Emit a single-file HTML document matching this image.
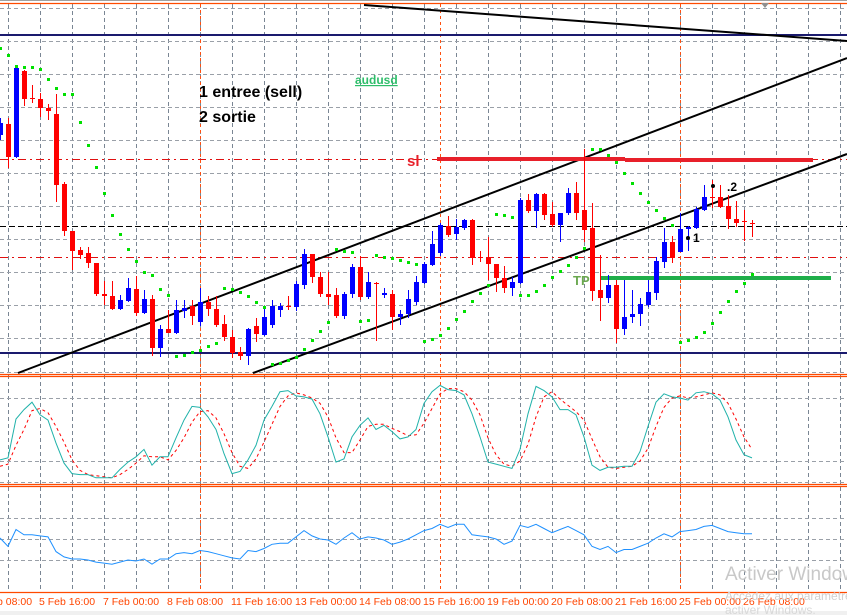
<!DOCTYPE html>
<html><head><meta charset="utf-8">
<style>
html,body{margin:0;padding:0;background:#fff;}
#wrap{position:relative;width:847px;height:615px;overflow:hidden;background:#fff;font-family:"Liberation Sans",sans-serif;}
svg{position:absolute;left:0;top:0;}
</style></head>
<body>
<div id="wrap">
<svg id="chart" width="847" height="615" viewBox="0 0 847 615"></svg>
</div>
<script>
// ---- data ----
const opens  = [9118,9129,9096,9182,9155,9154,9145,9139,9069,9022,9003,9000,8990,8959,8957,8944,8952,8964,8940,8954,8905,8924,8920,8942,8947,8931,8951,8944,8929,8916,8901,8897,8927,8918,8928,8943,8947,8946,8968,8999,8976,8959,8958,8937,8959,8986,8956,8970,8958,8959,8936,8939,8951,8970,8988,9000,9027,9019,9025,9033,8996,8995,8989,8975,8965,8970,9053,9042,9059,9039,9028,9040,9060,9043,9025,8963,8955,8968,8924,8936,8939,8948,8960,8991,9011,9001,9024,9025,9043,9056,9056,9047,9034,9032,9030];
const highs  = [9135,9135,9188,9183,9168,9160,9149,9159,9071,9022,9006,9006,8990,8972,8972,8958,8975,8977,8963,8958,8928,8943,8953,8953,8953,8965,8957,8957,8938,8923,8906,8925,8935,8945,8953,8950,8957,8972,9004,8999,8981,8981,8965,8961,8989,8997,8981,8971,8965,8963,8943,8963,8977,8991,9022,9030,9037,9034,9034,9034,9002,9016,8989,8987,8976,9055,9059,9060,9060,9051,9040,9065,9071,9104,9050,8998,8978,8973,8973,8963,8955,8973,8996,9025,9017,9040,9027,9046,9068,9073,9068,9058,9052,9043,9033];
const lows   = [9113,9085,9095,9147,9150,9136,9133,9051,9017,8983,8994,8985,8957,8948,8943,8943,8951,8937,8939,8897,8896,8920,8919,8935,8928,8927,8937,8926,8912,8895,8893,8888,8911,8917,8925,8936,8943,8942,8964,8970,8956,8948,8935,8934,8955,8953,8954,8912,8955,8923,8928,8935,8948,8969,8987,8997,9016,9013,9023,8988,8991,8973,8961,8960,8957,8969,9040,9025,9033,9026,9011,9038,9033,9011,8952,8932,8950,8910,8918,8930,8927,8946,8953,8985,8990,9001,9002,9024,9042,9045,9045,9024,9026,9012,9016];
const closes = [9130,9096,9185,9154,9154,9145,9142,9068,9022,9002,8998,8990,8959,8957,8944,8953,8965,8940,8954,8905,8924,8920,8943,8945,8937,8951,8944,8928,8916,8900,8897,8924,8919,8936,8947,8947,8946,8969,8999,8976,8959,8956,8937,8959,8986,8956,8971,8969,8960,8936,8939,8954,8971,8989,9009,9028,9018,9026,9033,8995,8995,8989,8975,8965,8971,9053,9042,9059,9038,9028,9040,9060,9040,9023,8962,8955,8968,8924,8936,8939,8949,8961,8992,9011,8995,9024,9026,9044,9056,9055,9046,9034,9030,9031,9029];
const sar = [9205,9198,9187,9186,9186,9184,9174,9165,9159,9159,9131,9108,9086,9060,9038,9019,9004,8992,8981,8978,8964,8958,8897,8898,8901,8903,8907,8910,8965,8964,8961,8957,8951,8946,8889,8890,8893,8896,8904,8913,8922,8931,9004,9002,9001,8932,8933,8998,8996,8995,8993,8991,8989,8912,8914,8918,8925,8934,8942,8952,8960,8968,9039,9038,9036,8958,8958,8962,8968,8976,8982,8988,8996,9005,9104,9104,9098,9091,9080,9070,9060,9051,9043,9035,9028,8911,8913,8916,8921,8930,8941,8952,8962,8970,8979];
const stochMain = [21,23,60,69,76,64,59,37,18,8,7,7,4,4,4,12,19,24,31,16,24,24,42,59,72,71,62,50,27,8,10,21,35,59,72,86,87,82,81,79,65,43,19,22,43,54,61,50,54,48,41,43,50,75,86,92,88,87,83,65,43,19,17,15,13,31,65,91,87,81,69,69,64,43,16,11,14,14,15,15,29,53,76,84,81,80,78,85,86,84,78,62,40,26,23];
const stochSignal = [15,17,35,50,68,70,66,53,38,21,11,7,6,5,4,7,12,18,25,24,24,21,30,42,57,67,68,61,46,28,15,13,22,38,55,72,82,85,83,80,75,62,42,28,28,40,53,55,55,51,48,44,45,56,70,84,89,89,86,78,64,42,26,17,15,20,36,62,81,86,79,73,67,59,41,24,14,13,14,15,20,32,53,71,80,82,80,81,83,85,83,75,60,43,31];
const oscLine = [51,43,59,54,54,53,52,38,33,31,31,30,28,27,26,28,30,29,31,26,31,31,36,37,36,39,38,36,34,32,31,39,38,41,45,46,46,52,58,53,50,49,45,51,56,50,52,51,49,45,47,50,54,58,60,64,61,64,64,54,53,52,50,45,48,63,61,64,60,56,59,62,58,54,43,40,43,37,40,40,43,46,51,55,52,57,58,59,62,63,60,57,56,55,55];
const timeLabels = ["4 Feb 08:00","5 Feb 16:00","7 Feb 00:00","8 Feb 08:00","11 Feb 16:00","13 Feb 00:00","14 Feb 08:00","15 Feb 16:00","19 Feb 00:00","20 Feb 08:00","21 Feb 16:00","25 Feb 00:00","26 Feb 08:00"];
const slPrice = [9094];
const tpPrice = [8975];
const levelPrices = [9218, 8900, 9027];

// ---- axes ----
const xOf = i => 8*i;
const yP = p => 9253 - p;                 // price -> y (main panel)
const yS = v => 461 - (v-20)*63/60;        // stochastic panel
const yO = v => 539 - (v-50)*1.05;         // bottom oscillator

const svg = document.getElementById('chart');
const NS = 'http://www.w3.org/2000/svg';
function mk(tag, attrs, parent){
  const e = document.createElementNS(NS, tag);
  for (const k in attrs) e.setAttribute(k, attrs[k]);
  (parent||svg).appendChild(e);
  return e;
}

// grid
const grid = mk('g', {});


for (let x = 8; x < 847; x += 32) {
  mk('line',{x1:x+0.5,y1:4,x2:x+0.5,y2:592,stroke:'#7a8694','stroke-width':1,'stroke-dasharray':'4,3'},grid);
}
[8,41,74,107,140,173,206,239,272,305,338,372,398,461,482,518,539,560].forEach(y=>{
  mk('line',{x1:0,y1:y+0.5,x2:847,y2:y+0.5,stroke:'#9aa0a8','stroke-width':1,'stroke-dasharray':'4,3'},grid);
});
// orange period separators
[200,440,680].forEach(x=>{
  mk('line',{x1:x+0.5,y1:4,x2:x+0.5,y2:592,stroke:'#ff5010','stroke-width':1,'stroke-dasharray':'3,3'},grid);
});
// panel separators
[[3],[374],[376],[484],[486],[592]].forEach(a=>{
  mk('line',{x1:0,y1:a[0]+0.5,x2:847,y2:a[0]+0.5,stroke:'#ff4a00','stroke-width':1.2},grid);
});
mk('line',{x1:0,y1:0.5,x2:847,y2:0.5,stroke:'#a0a0a0','stroke-width':1},grid);
mk('rect',{x:0,y:611,width:847,height:4,fill:'#f0f0f0'},grid);

// horizontal levels
const nav1 = mk('line',{x1:0,y1:yP(levelPrices[0]),x2:847,y2:yP(levelPrices[0]),stroke:'#1a1a6e','stroke-width':2});


const nav2 = mk('line',{x1:0,y1:yP(levelPrices[1]),x2:847,y2:yP(levelPrices[1]),stroke:'#1a1a6e','stroke-width':2});


const bdash = mk('line',{x1:0,y1:yP(levelPrices[2])+0.5,x2:847,y2:yP(levelPrices[2])+0.5,stroke:'#000','stroke-width':1,'stroke-dasharray':'6,3'});


const rd1 = mk('line',{x1:0,y1:159.5,x2:847,y2:159.5,stroke:'#e01010','stroke-width':1,'stroke-dasharray':'8,4,2,4'});


const rd2 = mk('line',{x1:0,y1:257.5,x2:847,y2:257.5,stroke:'#e01010','stroke-width':1,'stroke-dasharray':'8,4,2,4'});



// trend channel lines
const tl1 = mk('line',{x1:18,y1:373,x2:847,y2:58,stroke:'#000','stroke-width':2});


const tl2 = mk('line',{x1:253,y1:373,x2:847,y2:154,stroke:'#000','stroke-width':2});


const tl3 = mk('line',{x1:364,y1:5,x2:847,y2:41,stroke:'#000','stroke-width':2});



// SL / TP bars
const slY = yP(slPrice[0]);
const sl1 = mk('line',{x1:437,y1:slY,x2:625,y2:slY,stroke:'#e8202a','stroke-width':4});


const sl2 = mk('line',{x1:625,y1:slY+1,x2:813,y2:slY+1,stroke:'#e8202a','stroke-width':4});


const tpY = yP(tpPrice[0]);
const tp = mk('line',{x1:601,y1:tpY,x2:831,y2:tpY,stroke:'#1fae4a','stroke-width':4});



// candles
const cg = mk('g',{});


for (let i=0;i<opens.length;i++){
  const x = xOf(i);
  const up = closes[i] >= opens[i];
  const col = up ? '#0000ff' : '#ff0000';
  const c = mk('g',{},cg);
  
  
  mk('line',{x1:x+0.5,y1:yP(highs[i]),x2:x+0.5,y2:yP(lows[i]),stroke:col,'stroke-width':1},c);
  const top = yP(Math.max(opens[i],closes[i]));
  const h = Math.max(1, Math.abs(opens[i]-closes[i]));
  mk('rect',{x:x-2,y:top,width:5,height:h,fill:col},c);
}
// SAR dots
const sg = mk('g',{});


for (let i=0;i<sar.length;i++){
  const d = mk('rect',{x:xOf(i)-1,y:yP(sar[i])-1,width:3,height:3,fill:'#00e000'},sg);
  
  
}

// stochastic
function poly(arr, yf, attrs, name){
  const pts = arr.map((v,i)=>xOf(i)+','+yf(v).toFixed(1)).join(' ');
  const p = mk('polyline', Object.assign({points:pts,fill:'none'},attrs));
  
  
  return p;
}
poly(stochSignal, yS, {stroke:'#ff0000','stroke-width':1,'stroke-dasharray':'3,3'}, 'stochastic-signal-line');
poly(stochMain, yS, {stroke:'#20b2aa','stroke-width':1}, 'stochastic-main-line');
poly(oscLine, yO, {stroke:'#1e90ff','stroke-width':1}, 'oscillator-line');

// time labels
timeLabels.forEach((t,k)=>{
  const tx = mk('text',{x:(k===0? -24 : 39+64*(k-1)),y:605,'font-size':10.5,fill:'#ff4500','font-family':'Liberation Sans, sans-serif'});
  tx.textContent = t;
  
  
});

// annotations
function txt(x,y,s,attrs,name){
  const t = mk('text',Object.assign({x:x,y:y,'font-family':'Liberation Sans, sans-serif'},attrs));
  t.textContent = s;
  
  
  return t;
}
txt(199,97,'1 entree (sell)',{'font-size':16,'font-weight':'bold',fill:'#000'},'note-entry');
txt(199,122,'2 sortie',{'font-size':16,'font-weight':'bold',fill:'#000'},'note-exit');
txt(355,84,'audusd',{'font-size':12,'font-weight':'bold',fill:'#2ebd6a','text-decoration':'underline'},'symbol-label');
txt(407,166,'sl',{'font-size':15,'font-weight':'bold',fill:'#e8202a'},'sl-label');
txt(573,285,'TP',{'font-size':13,'font-weight':'bold',fill:'#6aa84f'},'tp-label');
mk('circle',{cx:688,cy:238,r:2,fill:'#000'});
txt(693,242,'1',{'font-size':12,'font-weight':'bold',fill:'#000'},'marker-1');
mk('circle',{cx:713,cy:186,r:2,fill:'#000'});
txt(727,191,'.2',{'font-size':12,'font-weight':'bold',fill:'#000'},'marker-2');
const tri = mk('polygon',{points:'761,3 769,3 765,8',fill:'#909090'});


txt(725,580,'Activer Windows',{'font-size':19,fill:'#c8c8c8'},'watermark-title');
txt(725,600,'Accédez aux paramètres pour',{'font-size':12,fill:'#d0d0d0'},'watermark-sub');
txt(725,614,'activer Windows.',{'font-size':12,fill:'#d8d8d8'},'watermark-sub2');
</script>
</body></html>
